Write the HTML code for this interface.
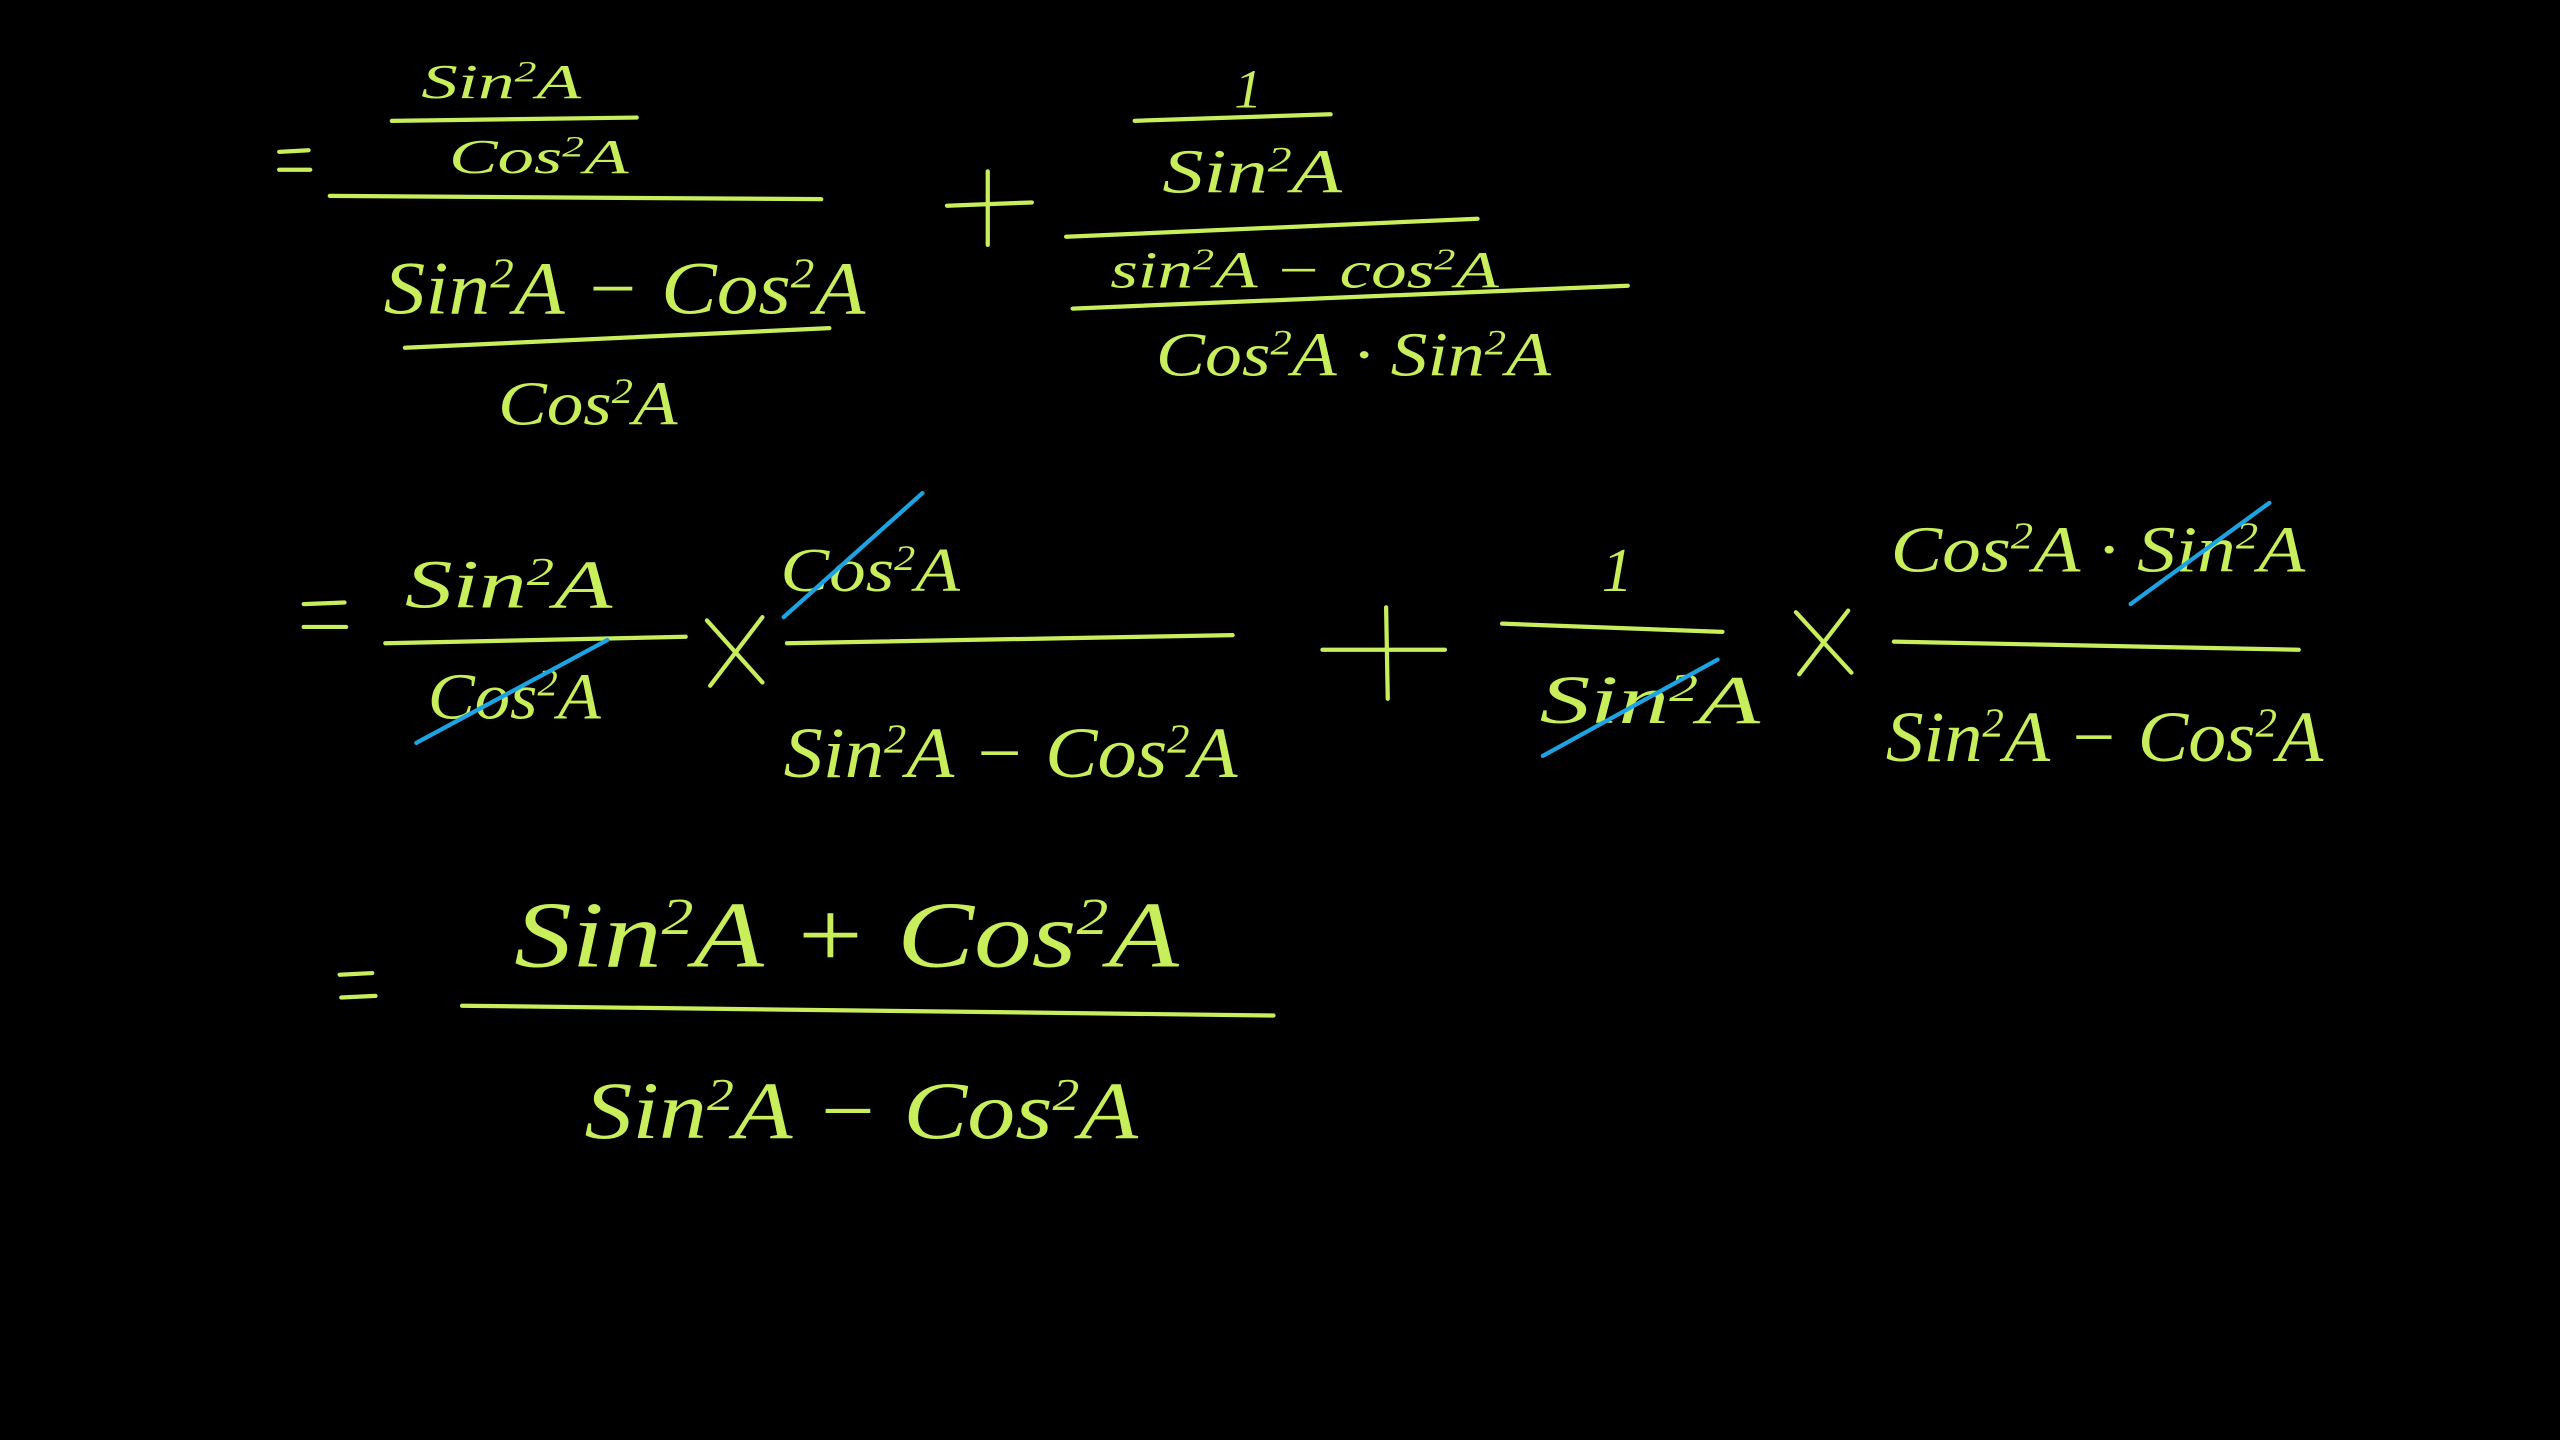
<!DOCTYPE html>
<html><head><meta charset="utf-8"><style>
html,body{margin:0;padding:0;background:#000;}
svg{display:block;}
text{font-family:"Liberation Serif",serif;font-style:italic;fill:#c8ee5c;}
line,path{stroke:#c8ee5c;stroke-width:2.6;stroke-linecap:round;fill:none;}
.b{stroke:#1ba3e2;stroke-width:2.6;}
</style></head><body>
<svg width="2560" height="1440" viewBox="0 0 1568 882" xmlns="http://www.w3.org/2000/svg">
<rect width="1568" height="882" fill="#000"/>
<!-- Row 1 -->
<line x1="171" y1="93" x2="189" y2="92"/>
<line x1="171" y1="104" x2="190" y2="104"/>
<text x="258" y="60" font-size="30" textLength="98" lengthAdjust="spacingAndGlyphs">Sin<tspan dy="-10" font-size="18">2</tspan><tspan dy="10">A</tspan></text>
<line x1="240" y1="74" x2="390" y2="72"/>
<text x="275" y="106" font-size="30" textLength="110" lengthAdjust="spacingAndGlyphs">Cos<tspan dy="-10" font-size="18">2</tspan><tspan dy="10">A</tspan></text>
<line x1="202" y1="120" x2="503" y2="122"/>
<text x="235" y="192" font-size="46" textLength="295" lengthAdjust="spacingAndGlyphs">Sin<tspan dy="-16" font-size="26">2</tspan><tspan dy="16">A − Cos</tspan><tspan dy="-16" font-size="26">2</tspan><tspan dy="16">A</tspan></text>
<line x1="248" y1="213" x2="508" y2="201"/>
<text x="305" y="260" font-size="38" textLength="110" lengthAdjust="spacingAndGlyphs">Cos<tspan dy="-13" font-size="22">2</tspan><tspan dy="13">A</tspan></text>
<line x1="580" y1="126" x2="632" y2="124"/>
<line x1="605" y1="105" x2="605" y2="150"/>
<text x="756" y="66" font-size="34">1</text>
<line x1="695" y1="74" x2="815" y2="70"/>
<text x="712" y="118" font-size="38" textLength="110" lengthAdjust="spacingAndGlyphs">Sin<tspan dy="-13" font-size="22">2</tspan><tspan dy="13">A</tspan></text>
<line x1="653" y1="145" x2="905" y2="134"/>
<text x="680" y="176" font-size="32" textLength="238" lengthAdjust="spacingAndGlyphs">sin<tspan dy="-11" font-size="19">2</tspan><tspan dy="11">A − cos</tspan><tspan dy="-11" font-size="19">2</tspan><tspan dy="11">A</tspan></text>
<line x1="657" y1="189" x2="997" y2="175"/>
<text x="708" y="230" font-size="38" textLength="242" lengthAdjust="spacingAndGlyphs">Cos<tspan dy="-13" font-size="22">2</tspan><tspan dy="13">A · Sin</tspan><tspan dy="-13" font-size="22">2</tspan><tspan dy="13">A</tspan></text>
<!-- Row 2 -->
<line x1="186" y1="370" x2="211" y2="369"/>
<line x1="186" y1="384" x2="212" y2="384"/>
<text x="248" y="372" font-size="42" textLength="127" lengthAdjust="spacingAndGlyphs">Sin<tspan dy="-14" font-size="24">2</tspan><tspan dy="14">A</tspan></text>
<line x1="236" y1="394" x2="420" y2="390"/>
<text x="262" y="440" font-size="40" textLength="106" lengthAdjust="spacingAndGlyphs">Cos<tspan dy="-14" font-size="23">2</tspan><tspan dy="14">A</tspan></text>
<line class="b" x1="255" y1="455" x2="372" y2="392"/>
<line x1="433" y1="380" x2="467" y2="418"/>
<line x1="467" y1="378" x2="435" y2="420"/>
<text x="478" y="362" font-size="38" textLength="110" lengthAdjust="spacingAndGlyphs">Cos<tspan dy="-13" font-size="22">2</tspan><tspan dy="13">A</tspan></text>
<line class="b" x1="480" y1="378" x2="565" y2="302"/>
<line x1="482" y1="394" x2="755" y2="389"/>
<text x="480" y="476" font-size="44" textLength="278" lengthAdjust="spacingAndGlyphs">Sin<tspan dy="-15" font-size="25">2</tspan><tspan dy="15">A − Cos</tspan><tspan dy="-15" font-size="25">2</tspan><tspan dy="15">A</tspan></text>
<line x1="810" y1="398" x2="885" y2="398"/>
<line x1="849" y1="372" x2="850" y2="428"/>
<text x="981" y="362" font-size="38">1</text>
<line x1="920" y1="382" x2="1055" y2="387"/>
<text x="943" y="443" font-size="42" textLength="135" lengthAdjust="spacingAndGlyphs">Sin<tspan dy="-14" font-size="24">2</tspan><tspan dy="14">A</tspan></text>
<line class="b" x1="945" y1="463" x2="1052" y2="404"/>
<line x1="1100" y1="375" x2="1134" y2="412"/>
<line x1="1132" y1="374" x2="1102" y2="413"/>
<text x="1158" y="350" font-size="40" textLength="254" lengthAdjust="spacingAndGlyphs">Cos<tspan dy="-14" font-size="23">2</tspan><tspan dy="14">A · Sin</tspan><tspan dy="-14" font-size="23">2</tspan><tspan dy="14">A</tspan></text>
<line class="b" x1="1305" y1="370" x2="1390" y2="308"/>
<line x1="1160" y1="393" x2="1408" y2="398"/>
<text x="1155" y="466" font-size="44" textLength="268" lengthAdjust="spacingAndGlyphs">Sin<tspan dy="-15" font-size="25">2</tspan><tspan dy="15">A − Cos</tspan><tspan dy="-15" font-size="25">2</tspan><tspan dy="15">A</tspan></text>
<!-- Row 3 -->
<line x1="208" y1="597" x2="228" y2="596"/>
<line x1="209" y1="611" x2="230" y2="610"/>
<text x="315" y="592" font-size="58" textLength="407" lengthAdjust="spacingAndGlyphs">Sin<tspan dy="-20" font-size="32">2</tspan><tspan dy="20">A  + Cos</tspan><tspan dy="-20" font-size="32">2</tspan><tspan dy="20">A</tspan></text>
<line x1="283" y1="616" x2="780" y2="622"/>
<text x="358" y="697" font-size="50" textLength="339" lengthAdjust="spacingAndGlyphs">Sin<tspan dy="-17" font-size="28">2</tspan><tspan dy="17">A − Cos</tspan><tspan dy="-17" font-size="28">2</tspan><tspan dy="17">A</tspan></text>
</svg>
</body></html>
